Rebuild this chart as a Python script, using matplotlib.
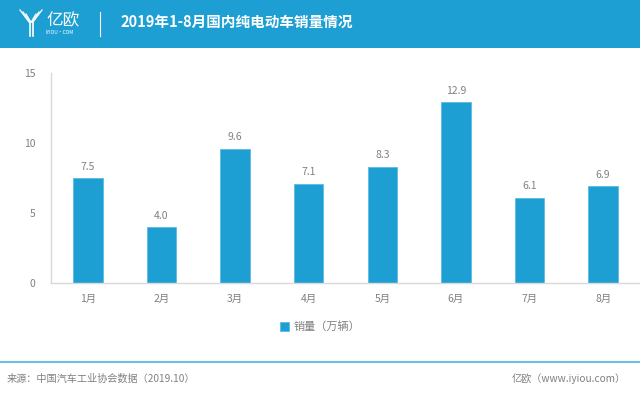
import matplotlib.pyplot as plt
from matplotlib.patches import Rectangle

plt.rcParams['font.family'] = ['Noto Sans CJK SC', 'DejaVu Sans']

months = ['1月', '2月', '3月', '4月', '5月', '6月', '7月', '8月']
sales = [7.5, 4.0, 9.6, 7.1, 8.3, 12.9, 6.1, 6.9]
yticks = [0, 5, 10, 15]

BLUE = '#1e9fd3'
GRAY = '#808080'
W, H = 640, 394

fig = plt.figure(figsize=(6.4, 3.94), dpi=100)
fig.patch.set_facecolor('white')

# header band
fig.patches.append(Rectangle((0, 1 - 48 / H), 1, 48 / H, transform=fig.transFigure,
                             facecolor=BLUE, edgecolor='none', zorder=0))
# logo (rough)
for i, dx in enumerate([0, 3, 6]):
    fig.add_artist(plt.Line2D([(20 + dx) / W, (29 + dx * 0.3) / W], [1 - (10 + i * 2) / H, 1 - 22 / H],
                              color='white', lw=0.9, transform=fig.transFigure))
    fig.add_artist(plt.Line2D([(42 - dx) / W, (33 - dx * 0.3) / W], [1 - (10 + i * 2) / H, 1 - 22 / H],
                              color='white', lw=0.9, transform=fig.transFigure))
fig.add_artist(plt.Line2D([30 / W, 30 / W], [1 - 22 / H, 1 - 36 / H], color='white', lw=1.2,
                          transform=fig.transFigure))
fig.add_artist(plt.Line2D([33 / W, 33 / W], [1 - 22 / H, 1 - 36 / H], color='white', lw=1.2,
                          transform=fig.transFigure))
fig.text(46 / W, 1 - 21 / H, '亿欧', color='white', fontsize=12, va='center', ha='left')
fig.text(46 / W, 1 - 33 / H, 'IYIOU·COM', color='white', fontsize=3.5, va='center', ha='left')
fig.add_artist(plt.Line2D([100 / W, 100 / W], [1 - 12 / H, 1 - 36 / H], color='white', lw=0.8,
                          transform=fig.transFigure))
fig.text(120 / W, 1 - 22 / H, '2019年1-8月国内纯电动车销量情况', color='white', fontsize=10.5,
         fontweight='bold', va='center', ha='left')

# chart
ax = fig.add_axes([51 / W, 1 - 283 / H, (640 - 51) / W, (283 - 73) / H])
x = range(len(months))
bars = ax.bar(x, sales, width=0.4, color=BLUE, edgecolor='#5bbbe3', linewidth=0.6,
              label='销量（万辆）', zorder=2)
for xi, v in zip(x, sales):
    ax.text(xi, v + 0.45, f'{v:.1f}', ha='center', va='bottom', fontsize=7.5, color=GRAY)

ax.set_xlim(-0.5, len(months) - 0.5)
ax.set_ylim(0, 15)
ax.set_yticks(yticks)
ax.set_xticks(list(x))
ax.set_xticklabels(months)
ax.tick_params(axis='both', length=0, labelsize=7.5, colors=GRAY)
ax.tick_params(axis='y', pad=11)
ax.tick_params(axis='x', pad=8)
for s in ['top', 'right']:
    ax.spines[s].set_visible(False)
for s in ['left', 'bottom']:
    ax.spines[s].set_color('#d9d9d9')
    ax.spines[s].set_linewidth(1)

leg = ax.legend(loc='center', bbox_to_anchor=((320 - 51) / (640 - 51), (283 - 327) / (283 - 73)),
                frameon=False, fontsize=8, handlelength=0.8, handleheight=0.8, handletextpad=0.4)
for t in leg.get_texts():
    t.set_color(GRAY)

# footer
fig.add_artist(plt.Line2D([0, 1], [1 - 362 / H, 1 - 362 / H], color='#6cc0e5', lw=1.5,
                          transform=fig.transFigure))
fig.text(7 / W, 1 - 379 / H, '来源：中国汽车工业协会数据（2019.10）', color=GRAY, fontsize=7.3,
         va='center', ha='left')
fig.text(626 / W, 1 - 379 / H, '亿欧（www.iyiou.com）', color=GRAY, fontsize=7.3,
         va='center', ha='right')

fig.savefig('out.png', dpi=100)
